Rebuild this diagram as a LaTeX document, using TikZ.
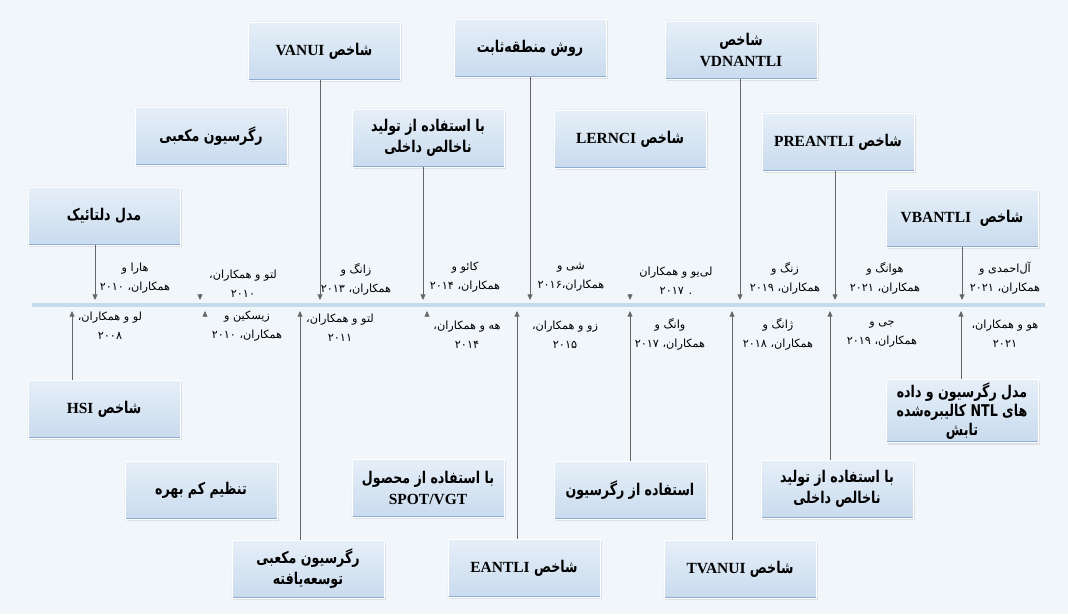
\documentclass[tikz,border=0pt]{standalone}
\usepackage{fontspec}
\setmainfont{Liberation Serif}
\newfontfamily\fa[Script=Arabic]{DejaVu Sans}
\newfontfamily\fabox[Script=Arabic,FakeStretch=0.78]{DejaVu Sans}
\newfontfamily\latfont{Liberation Serif}
\TeXXeTstate=1
\usetikzlibrary{arrows.meta,shadows}
\definecolor{pagebg}{HTML}{F1F6FB}
\definecolor{boxtop}{HTML}{E6EFF8}
\definecolor{boxbot}{HTML}{C9DBEE}
\definecolor{boxline}{HTML}{8EABD2}
\definecolor{lineblue}{HTML}{C6DBEA}
\newcommand\fatxt[1]{\beginR#1\endR}
\newcommand\en[1]{{\latfont\bfseries\fontsize{11}{15}\selectfont #1}}

\begin{document}
\begin{tikzpicture}[x=0.025cm,y=-0.025cm,
	method/.style={rectangle,draw=white,line width=0.6pt,top color=boxtop,bottom color=boxbot,
		minimum width=3.8cm,minimum height=1.45cm,align=center,inner sep=2pt,
		font=\fabox\bfseries\fontsize{11.5}{15}\selectfont,
		drop shadow={opacity=0.18,shadow xshift=0.4mm,shadow yshift=-0.6mm},
		path picture={\draw[boxline,line width=2pt] (path picture bounding box.south west) -- (path picture bounding box.south east);}},
	yearlbl/.style={font=\fa\fontsize{8}{13.5}\selectfont,align=center,inner sep=1pt},
	con/.style={draw=black!60,line width=0.6pt,-{Triangle[length=4pt,width=3.5pt]}},
	timeline/.style={draw=lineblue,line width=2.5pt}]
	\useasboundingbox[fill=pagebg] (0,0) rectangle (1068,614);
	% timeline
	\coordinate (tlA) at (32,305);
	\coordinate (tlB) at (1045,305);
	\draw[timeline] (tlA) -- (tlB);
	% upper methods
	\node[method] (t1) at (104,216) {\fatxt{مدل دلتائیک}};
	\node[method] (t2) at (211,136) {\fatxt{رگرسیون مکعبی}};
	\node[method] (t3) at (324,51) {\fatxt{شاخص \en{VANUI}}};
	\node[method] (t4) at (428,138) {\fatxt{با استفاده از تولید}\\\fatxt{ناخالص داخلی}};
	\node[method] (t5) at (530,48) {\fatxt{روش منطقه‌ثابت}};
	\node[method] (t6) at (630,139) {\fatxt{شاخص \en{LERNCI}}};
	\node[method] (t7) at (741,50) {\fatxt{شاخص}\\\en{VDNANTLI}};
	\node[method] (t8) at (838,142) {\fatxt{شاخص \en{PREANTLI}}};
	\node[method] (t9) at (962,218) {\fatxt{شاخص \ \en{VBANTLI}}};
	% lower methods
	\node[method] (b1) at (104,409) {\fatxt{شاخص \en{HSI}}};
	\node[method] (b2) at (201,490) {\fatxt{تنظیم کم بهره}};
	\node[method] (b3) at (308,569) {\fatxt{رگرسیون مکعبی}\\\fatxt{توسعه‌یافته}};
	\node[method] (b4) at (428,488) {\fatxt{با استفاده از محصول}\\\en{SPOT/VGT}};
	\node[method] (b5) at (524,568) {\fatxt{شاخص \en{EANTLI}}};
	\node[method] (b6) at (630,490) {\fatxt{استفاده از رگرسیون}};
	\node[method] (b7) at (740,569) {\fatxt{شاخص \en{TVANUI}}};
	\node[method] (b8) at (837,489) {\fatxt{با استفاده از تولید}\\\fatxt{ناخالص داخلی}};
	\node[method,font=\fabox\bfseries\fontsize{11.5}{13.5}\selectfont] (b9) at (962,411) {\fatxt{مدل رگرسیون و داده}\\\fatxt{های NTL کالیبره‌شده}\\\fatxt{تابش}};
	% authors above the line
	\node[yearlbl] (tl1) at (135,278) {\fatxt{هارا و}\\\fatxt{همکاران، ۲۰۱۰}};
	\node[yearlbl] (tl2) at (243,284) {\fatxt{لتو و همکاران،}\\\fatxt{۲۰۱۰}};
	\node[yearlbl] (tl3) at (356,279) {\fatxt{زانگ و}\\\fatxt{همکاران، ۲۰۱۳}};
	\node[yearlbl] (tl4) at (465,277) {\fatxt{کائو و}\\\fatxt{همکاران، ۲۰۱۴}};
	\node[yearlbl] (tl5) at (571,277) {\fatxt{شی و}\\\fatxt{همکاران،۲۰۱۶}};
	\node[yearlbl] (tl6) at (676,281) {\fatxt{لی‌یو و همکاران}\\\fatxt{. ۲۰۱۷}};
	\node[yearlbl] (tl7) at (785,278) {\fatxt{زنگ و}\\\fatxt{همکاران، ۲۰۱۹}};
	\node[yearlbl] (tl8) at (885,278) {\fatxt{هوانگ و}\\\fatxt{همکاران، ۲۰۲۱}};
	\node[yearlbl] (tl9) at (1005,278) {\fatxt{آل‌احمدی و}\\\fatxt{همکاران، ۲۰۲۱}};
	% authors below the line
	\node[yearlbl] (bl1) at (110,326) {\fatxt{لو و همکاران،}\\\fatxt{۲۰۰۸}};
	\node[yearlbl] (bl2) at (247,326) {\fatxt{زیسکین و}\\\fatxt{همکاران، ۲۰۱۰}};
	\node[yearlbl] (bl3) at (340,328) {\fatxt{لتو و همکاران،}\\\fatxt{۲۰۱۱}};
	\node[yearlbl] (bl4) at (467,335) {\fatxt{هه و همکاران،}\\\fatxt{۲۰۱۴}};
	\node[yearlbl] (bl5) at (565,335) {\fatxt{زو و همکاران،}\\\fatxt{۲۰۱۵}};
	\node[yearlbl] (bl6) at (670,334) {\fatxt{وانگ و}\\\fatxt{همکاران، ۲۰۱۷}};
	\node[yearlbl] (bl7) at (778,334) {\fatxt{ژانگ و}\\\fatxt{همکاران، ۲۰۱۸}};
	\node[yearlbl] (bl8) at (882,334) {\fatxt{جی و}\\\fatxt{همکاران، ۲۰۱۹}};
	\node[yearlbl] (bl9) at (1005,334) {\fatxt{هو و همکاران،}\\\fatxt{۲۰۲۱}};
	% arrow tips on the line
	\coordinate (ta1) at (95,300);  \coordinate (ta2) at (200,300); \coordinate (ta3) at (320,300);
	\coordinate (ta4) at (423,300); \coordinate (ta5) at (530,300); \coordinate (ta6) at (630,300);
	\coordinate (ta7) at (740,300); \coordinate (ta8) at (835,300); \coordinate (ta9) at (962,300);
	\coordinate (ba1) at (72,311);  \coordinate (ba2) at (205,311); \coordinate (ba3) at (300,311);
	\coordinate (ba4) at (427,311); \coordinate (ba5) at (517,311); \coordinate (ba6) at (630,311);
	\coordinate (ba7) at (732,311); \coordinate (ba8) at (830,311); \coordinate (ba9) at (961,311);
	\coordinate (ts2) at (200,294); \coordinate (ts6) at (630,294);
	\coordinate (bs2) at (205,317); \coordinate (bs4) at (427,317);
	% connectors
	\draw[con] (t1.south -| ta1) -- (ta1);
	\draw[con] (ts2) -- (ta2);
	\draw[con] (t3.south -| ta3) -- (ta3);
	\draw[con] (t4.south -| ta4) -- (ta4);
	\draw[con] (t5.south -| ta5) -- (ta5);
	\draw[con] (ts6) -- (ta6);
	\draw[con] (t7.south -| ta7) -- (ta7);
	\draw[con] (t8.south -| ta8) -- (ta8);
	\draw[con] (t9.south -| ta9) -- (ta9);
	\draw[con] (b1.north -| ba1) -- (ba1);
	\draw[con] (bs2) -- (ba2);
	\draw[con] (b3.north -| ba3) -- (ba3);
	\draw[con] (bs4) -- (ba4);
	\draw[con] (b5.north -| ba5) -- (ba5);
	\draw[con] (b6.north -| ba6) -- (ba6);
	\draw[con] (b7.north -| ba7) -- (ba7);
	\draw[con] (b8.north -| ba8) -- (ba8);
	\draw[con] (b9.north -| ba9) -- (ba9);
\end{tikzpicture}
\end{document}
